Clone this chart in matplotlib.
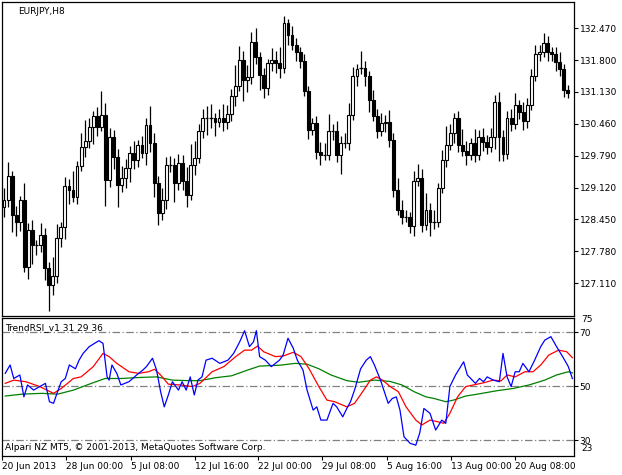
import matplotlib
matplotlib.use("Agg")
import matplotlib.pyplot as plt
import numpy as np

# EURJPY H8 candles (close of each bar, open = previous close)
first_open = 128.71
closes = [
    128.86, 129.36, 128.54, 128.40, 128.86, 127.45, 128.23, 127.91, 127.91, 128.12,
    127.43, 127.07, 127.26, 128.06, 128.29, 129.15, 129.07, 128.92, 129.57, 129.97,
    130.10, 130.39, 130.62, 130.40, 130.64, 129.28, 130.18, 129.76, 129.17, 129.32,
    129.53, 129.85, 129.70, 130.01, 129.85, 130.43, 130.06, 129.22, 128.59, 128.86,
    129.59, 129.59, 129.22, 129.63, 129.26, 128.96, 129.59, 129.74, 130.31, 130.58,
    130.58, 130.58, 130.50, 130.58, 130.50, 130.66, 131.04, 131.25, 131.80, 131.38,
    131.44, 132.18, 131.86, 131.48, 131.21, 131.73, 131.80, 131.73, 131.63, 132.57,
    132.32, 132.11, 131.97, 131.78, 131.15, 130.33, 130.48, 129.87, 129.80, 129.80,
    130.31, 130.31, 129.80, 130.06, 130.06, 130.64, 131.46, 131.61, 131.63, 131.46,
    130.96, 130.62, 130.31, 130.48, 130.50, 130.12, 129.07, 128.65, 128.50, 128.50,
    128.31, 129.26, 129.32, 128.33, 128.65, 128.40, 128.40, 129.11, 129.70, 130.01,
    130.26, 130.58, 130.01, 129.89, 129.80, 130.06, 129.80, 130.18, 130.08, 129.97,
    130.18, 130.92, 130.18, 129.82, 130.58, 130.46, 130.85, 130.71, 130.52, 130.85,
    131.46, 131.92, 131.97, 132.16, 131.97, 131.92, 131.76, 131.61, 131.17, 131.10,
]
wick_up = [
    0.25, 0.30, 0.10, 0.20, 0.08, 0.35, 0.15, 0.20, 0.10, 0.25,
    0.15, 0.12, 0.40, 0.30, 0.10, 0.20, 0.15, 0.40, 0.10, 0.30,
    0.45, 0.20, 0.10, 0.20, 0.50, 0.25, 0.20, 0.15, 0.18, 0.25,
    0.20, 0.15, 0.25, 0.10, 0.20, 0.15, 0.40, 0.20, 0.15, 0.25,
    0.18, 0.20, 0.15, 0.20, 0.18, 0.30, 0.45, 0.35, 0.15, 0.20,
    0.25, 0.30, 0.10, 0.20, 0.30, 0.20, 0.15, 0.45, 0.30, 0.20,
    0.25, 0.20, 0.30, 0.10, 0.15, 0.10, 0.25, 0.20, 0.35, 0.15,
    0.10, 0.20, 0.15, 0.10, 0.15, 0.10, 0.10, 0.15, 0.20, 0.25,
    0.35, 0.15, 0.20, 0.15, 0.20, 0.25, 0.20, 0.10, 0.35, 0.15,
    0.10, 0.20, 0.15, 0.20, 0.15, 0.25, 0.15, 0.25, 0.20, 0.15,
    0.10, 0.20, 0.30, 0.20, 0.35, 0.15, 0.25, 0.10, 0.20, 0.40,
    0.20, 0.10, 0.15, 0.35, 0.20, 0.10, 0.30, 0.15, 0.20, 0.15,
    0.20, 0.15, 0.20, 0.15, 0.15, 0.20, 0.25, 0.10, 0.20, 0.15,
    0.15, 0.20, 0.15, 0.20, 0.15, 0.10, 0.15, 0.20, 0.10, 0.10,
]
wick_dn = [
    0.20, 0.15, 0.35, 0.30, 0.20, 0.10, 0.25, 0.40, 0.20, 0.15,
    0.25, 0.55, 0.20, 0.15, 0.20, 0.25, 0.30, 0.10, 0.15, 0.10,
    0.20, 0.15, 0.35, 0.20, 0.10, 0.55, 0.15, 0.25, 0.45, 0.15,
    0.20, 0.30, 0.20, 0.15, 0.10, 0.25, 0.20, 0.30, 0.25, 0.15,
    0.20, 0.15, 0.40, 0.15, 0.20, 0.25, 0.10, 0.20, 0.10, 0.15,
    0.35, 0.20, 0.30, 0.10, 0.20, 0.15, 0.15, 0.20, 0.10, 0.45,
    0.25, 0.15, 0.15, 0.30, 0.20, 0.15, 0.15, 0.20, 0.20, 0.10,
    0.20, 0.10, 0.20, 0.15, 0.10, 0.20, 0.10, 0.15, 0.20, 0.10,
    0.10, 0.20, 0.15, 0.40, 0.10, 0.15, 0.10, 0.20, 0.10, 0.20,
    0.25, 0.10, 0.15, 0.10, 0.20, 0.15, 0.15, 0.10, 0.15, 0.10,
    0.15, 0.20, 0.10, 0.15, 0.10, 0.30, 0.15, 0.10, 0.10, 0.15,
    0.10, 0.20, 0.15, 0.10, 0.20, 0.10, 0.15, 0.10, 0.20, 0.15,
    0.10, 0.25, 0.50, 0.15, 0.10, 0.15, 0.10, 0.15, 0.20, 0.15,
    0.10, 0.10, 0.15, 0.10, 0.20, 0.15, 0.20, 0.15, 0.15, 0.10,
]

# TrendRSI lines (bar index, value)
blue_idx = [0.3, 1.5, 2.4, 3.9, 4.9, 5.8, 7.3, 8.8, 10.2, 11.2, 12.2, 13.2, 14.1, 15.1,
            16.1, 17.6, 18.5, 19.5, 21.0, 23.4, 24.4, 25.4, 25.9, 26.6, 27.8, 28.8,
            30.8, 32.7, 34.2, 35.1, 36.6, 37.6, 38.6, 39.5, 40.5, 41.5, 43.0, 43.9,
            44.9, 45.9, 46.9, 47.8, 48.8, 49.8, 51.3, 53.2, 55.2, 56.6, 58.1, 59.3,
            60.5, 61.5, 62.2, 63.0, 64.4, 65.9, 66.9, 67.9, 68.8, 70.0, 71.3, 72.3,
            73.7, 74.7, 76.2, 77.1, 78.1, 79.6, 81.1, 82.0, 83.5, 84.5, 85.4, 86.4,
            87.9, 89.3, 90.3, 91.3, 92.8, 94.7, 95.7, 96.7, 97.6, 98.6, 100.1, 101.5,
            102.5, 103.5, 105.0, 106.4, 107.9, 108.9, 109.9, 111.3, 113.3, 114.2,
            116.2, 117.2, 118.2, 119.1, 120.6, 122.1, 123.0, 124.0, 125.0, 126.0,
            127.0, 127.9, 129.4, 130.8, 132.3, 133.3, 134.8, 136.2, 137.7, 139.1, 140.1]
blue_val = [54.7, 57.8, 52.8, 54.1, 46.0, 50.4, 48.5, 49.8, 51.0, 44.2, 43.6, 47.9, 51.6, 52.8,
            57.8, 56.4, 59.6, 62.1, 64.6, 66.8, 65.8, 53.4, 52.2, 57.8, 54.7, 50.4,
            51.6, 54.1, 55.9, 57.2, 60.3, 55.9, 47.9, 42.3, 46.7, 51.6, 48.5, 51.6,
            48.5, 53.4, 46.7, 52.2, 53.4, 59.6, 60.3, 58.4, 59.6, 62.1, 66.4, 70.5,
            64.6, 66.4, 70.5, 60.9, 59.6, 57.2, 58.4, 59.6, 61.5, 67.7, 64.0, 59.6,
            55.9, 48.5, 41.1, 42.3, 37.4, 37.4, 43.6, 42.3, 38.6, 41.7, 44.2, 48.5,
            56.4, 59.6, 60.9, 57.8, 52.2, 43.6, 45.4, 46.0, 41.1, 31.2, 28.8, 28.1,
            32.8, 41.7, 39.9, 33.7, 37.4, 36.2, 49.8, 54.1, 59.0, 54.1,
            51.0, 52.8, 51.6, 53.4, 52.2, 51.6, 62.1, 53.4, 49.8, 55.3,
            55.3, 58.4, 55.3, 59.6, 64.6, 67.0, 68.3, 64.6, 60.9, 57.2, 52.8]
red_idx = [0.3, 2.4, 5.4, 8.8, 12.2, 14.1, 17.1, 19.0, 22.0, 24.4, 25.9, 27.8, 30.8, 33.2,
           35.6, 37.1, 38.6, 40.5, 43.4, 46.4, 48.3, 51.3, 54.2, 57.1, 59.3, 61.0, 62.5,
           64.0, 66.9, 68.8, 71.3, 73.2, 75.2, 77.6, 79.6, 81.5, 84.5, 86.4, 88.4, 90.3,
           91.8, 93.3, 95.2, 97.2, 99.1, 101.5, 103.0, 105.0, 106.9, 108.4, 109.9, 111.8,
           113.8, 115.7, 118.2, 120.6, 122.5, 124.0, 126.0, 128.4, 130.4, 132.3, 134.3,
           136.7, 138.7, 140.1]
red_val = [51.0, 52.2, 51.6, 49.8, 47.3, 49.1, 52.8, 53.4, 57.2, 62.1, 60.9, 58.4, 55.3, 54.7,
           55.3, 56.2, 54.1, 50.7, 50.4, 49.8, 51.0, 55.3, 57.2, 60.9, 63.3, 63.3, 64.8,
           62.7, 60.9, 61.1, 62.5, 60.9, 56.4, 49.8, 44.8, 44.2, 42.3, 43.6, 47.9, 52.2,
           53.4, 52.2, 49.8, 47.9, 42.3, 37.4, 35.6, 37.4, 36.8, 36.2, 39.9, 46.0,
           49.8, 50.4, 51.2, 52.2, 51.9, 54.1, 53.4, 55.3, 55.3, 57.8, 61.5,
           63.3, 62.7, 60.5]
green_idx = [0.3, 4.4, 9.3, 13.2, 17.1, 21.0, 24.9, 28.8, 33.7, 37.6, 41.5, 45.4, 48.3, 52.2,
             56.1, 60.0, 63.0, 67.9, 71.8, 74.7, 77.6, 80.6, 84.5, 87.4, 91.3, 95.2, 98.1,
             101.1, 104.0, 106.0, 108.9, 110.8, 113.8, 116.7, 121.6, 125.5, 129.4, 133.3,
             136.2, 139.1, 140.1]
green_val = [46.3, 47.0, 47.3, 47.0, 48.5, 50.7, 52.8, 52.8, 53.2, 53.4, 52.2, 52.0, 52.0, 53.1,
             53.8, 55.9, 57.4, 57.7, 58.4, 58.1, 56.4, 54.1, 52.0, 51.4, 52.2, 51.7, 50.4,
             47.9, 46.0, 45.4, 44.2, 44.8, 46.3, 47.0, 48.3, 49.1, 50.4, 52.2,
             54.1, 55.3, 54.9]

price_ticks = [127.110, 127.780, 128.450, 129.120, 129.790, 130.460, 131.130, 131.800, 132.470]
rsi_levels = [70, 50, 30]
date_pos = [-0.5, 15.3, 31.2, 47.1, 62.6, 78.5, 94.3, 110.2, 125.9]
date_labels = ["20 Jun 2013", "28 Jun 00:00", "5 Jul 08:00", "12 Jul 16:00", "22 Jul 00:00",
               "29 Jul 08:00", "5 Aug 16:00", "13 Aug 00:00", "20 Aug 08:00"]

plt.rcParams['font.family'] = ['DejaVu Sans']
W, H = 622, 475
fig = plt.figure(figsize=(W / 100, H / 100), dpi=100)
fig.patch.set_facecolor('white')

ax = fig.add_axes([2 / W, (H - 316) / H, 572 / W, 314 / H])
ax2 = fig.add_axes([2 / W, (H - 456) / H, 572 / W, 138 / H])

# candles
opens = [first_open] + closes[:-1]
for i, (o, c) in enumerate(zip(opens, closes)):
    hi = max(o, c) + wick_up[i]
    lo = min(o, c) - wick_dn[i]
    ax.vlines(i, lo, hi, color='black', lw=0.9, zorder=1)
    if abs(c - o) < 0.02:
        ax.hlines(c, i - 0.4, i + 0.4, color='black', lw=0.9, zorder=2)
    else:
        face = 'white' if c > o else 'black'
        ax.bar(i, abs(c - o), bottom=min(o, c), width=0.7, color=face,
               edgecolor='black', linewidth=0.8, zorder=2)

ax.set_xlim(-0.5, 140.5)
ax.set_ylim(126.42, 133.02)
ax.set_xticks([])
ax.yaxis.tick_right()
ax.set_yticks(price_ticks)
ax.set_yticklabels([f"{p:.3f}" for p in price_ticks], fontsize=6.5)
ax.tick_params(axis='y', length=3, width=0.8, pad=1)
ax.text(0.028, 0.985, "EURJPY,H8", transform=ax.transAxes, fontsize=6.5, va='top')

# indicator
for lv in rsi_levels:
    ax2.axhline(lv, color='#808080', lw=0.9, ls=(0, (6, 2, 1, 2)))
ax2.plot(green_idx, green_val, color='#008000', lw=0.9)
ax2.plot(red_idx, red_val, color='red', lw=0.9)
ax2.plot(blue_idx, blue_val, color='blue', lw=0.9)
ax2.set_xlim(-0.5, 140.5)
ax2.set_ylim(24.1, 75.2)
ax2.yaxis.tick_right()
ax2.set_yticks(rsi_levels)
ax2.set_yticklabels([str(v) for v in rsi_levels], fontsize=6.5)
ax2.tick_params(axis='y', length=3, width=0.8, pad=1)
ax2.text(1.012, 1.02, "75", transform=ax2.transAxes, fontsize=6.5, va='top')
ax2.text(1.012, 0.02, "23", transform=ax2.transAxes, fontsize=6.5, va='bottom')
ax2.text(0.006, 0.965, "TrendRSI_v1 31 29 36", transform=ax2.transAxes, fontsize=6.5, va='top')
ax2.text(0.006, 0.03, "Alpari NZ MT5, © 2001-2013, MetaQuotes Software Corp.",
         transform=ax2.transAxes, fontsize=6.5, va='bottom')
ax2.set_xticks(date_pos)
ax2.set_xticklabels(date_labels, fontsize=6.5, ha='left')
ax2.tick_params(axis='x', length=3, width=0.8, pad=1)

for a in (ax, ax2):
    for s in a.spines.values():
        s.set_linewidth(0.9)

fig.savefig("out.png", dpi=100)
